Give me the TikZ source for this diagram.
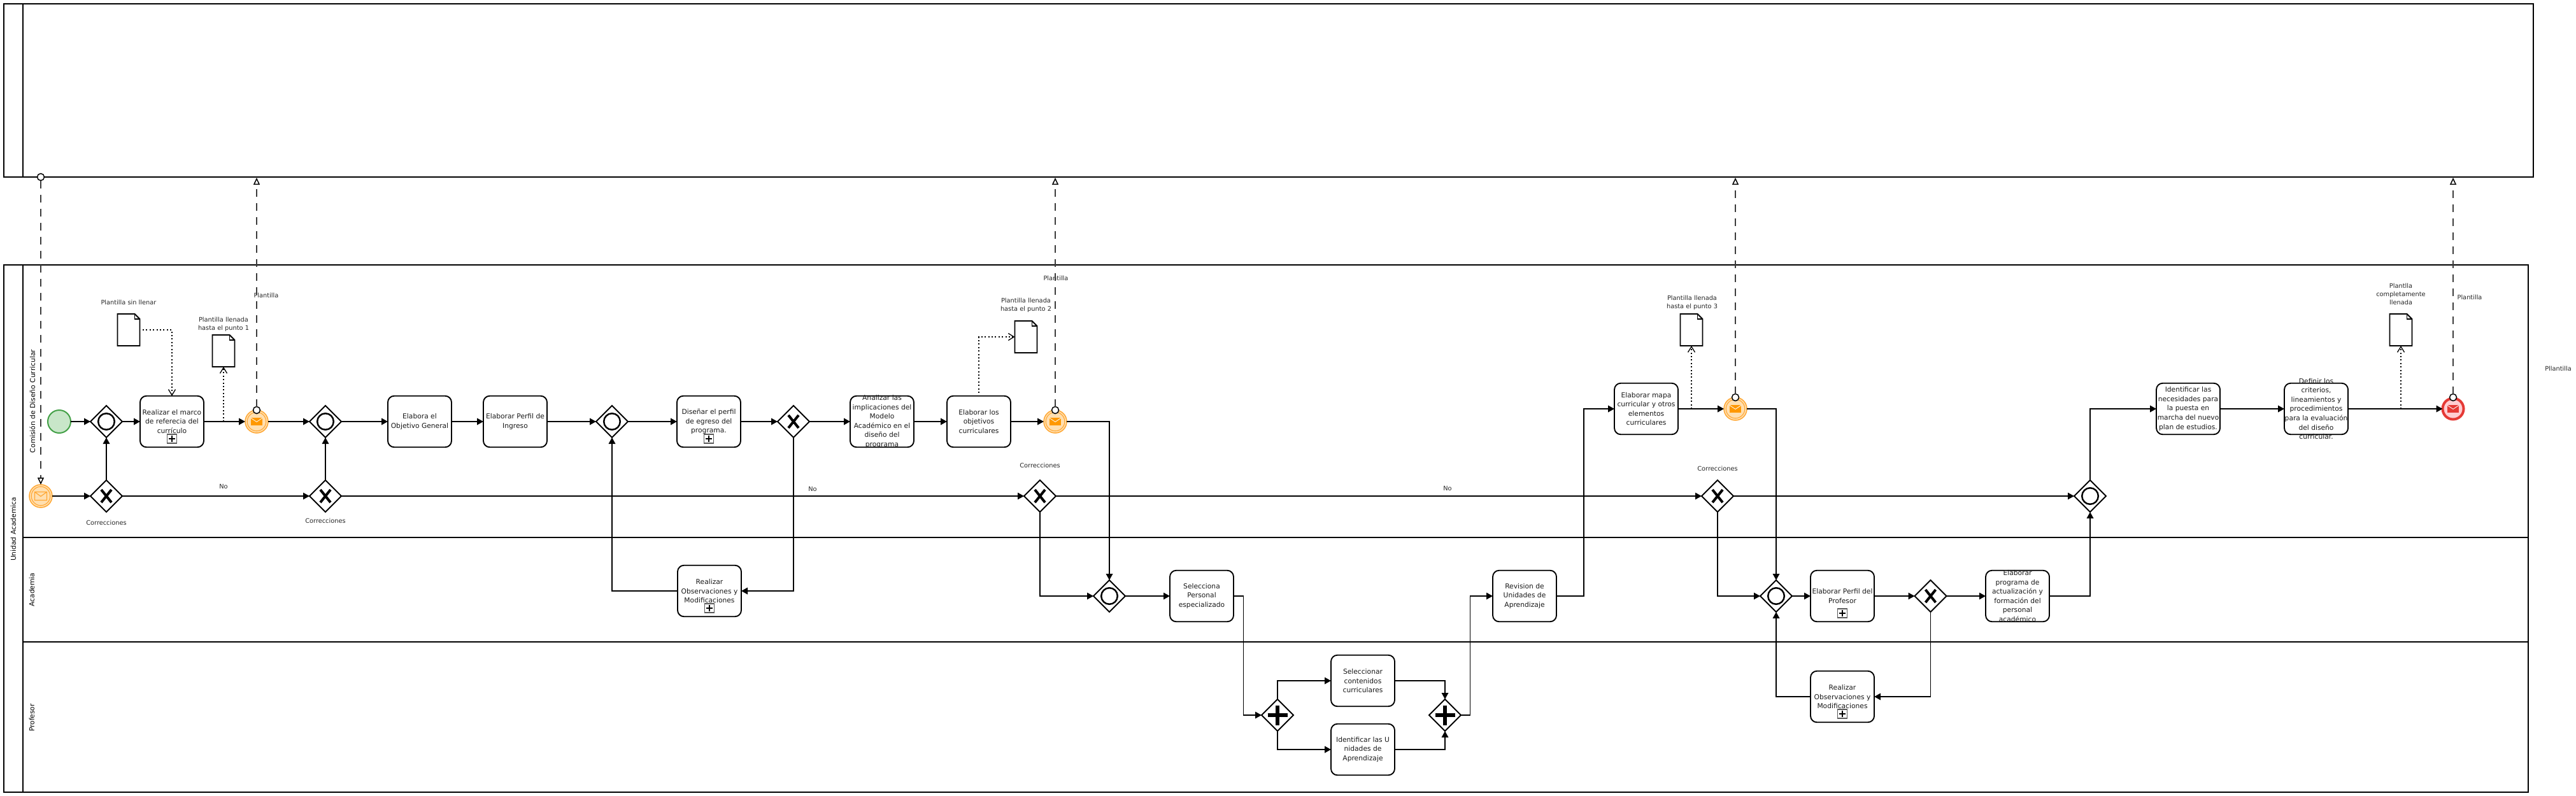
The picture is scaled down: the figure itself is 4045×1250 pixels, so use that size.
\documentclass[tikz,border=0pt]{standalone}
\usepackage{fontspec}
\setmainfont{DejaVu Sans}
\usetikzlibrary{arrows.meta,shapes.geometric}
\definecolor{evfill}{HTML}{FFDFB0}
\definecolor{evline}{HTML}{FFA733}
\definecolor{evmark}{HTML}{FF9800}
\definecolor{stfill}{HTML}{C8E6C9}
\definecolor{stline}{HTML}{43A047}
\definecolor{enfill}{HTML}{FFCDD2}
\definecolor{enline}{HTML}{E53935}
\definecolor{msgline}{HTML}{3C3C3C}
\tikzset{
  lane/.style={draw=black,line width=1.9pt,fill=none},
  lanetext/.style={rotate=90,font=\fontsize{10.7}{13}\selectfont,inner sep=0pt},
  taskbox/.style={draw=black,line width=1.9pt,rounded corners=10pt,fill=white,minimum width=100pt,minimum height=80.5pt,inner sep=0pt,outer sep=0pt},
  tasktext/.style={align=center,font=\fontsize{10.7}{14.6}\selectfont,inner sep=0pt,text=black!90},
  lab/.style={align=center,font=\fontsize{9.8}{13.2}\selectfont,inner sep=0pt,text=black!85},
  gateway/.style={diamond,draw=black,line width=1.9pt,fill=white,minimum width=50pt,minimum height=50pt,inner sep=0pt,outer sep=0pt},
  evring/.style={circle,draw=evline,line width=1.5pt,fill=evfill,minimum size=36pt,inner sep=0pt,outer sep=0pt},
  startev/.style={circle,draw=stline,line width=2pt,fill=stfill,minimum size=36pt,inner sep=0pt,outer sep=0pt},
  endev/.style={circle,draw=enline,line width=4pt,fill=enfill,minimum size=33pt,inner sep=0pt,outer sep=0pt},
  attach/.style={circle,draw=black,line width=1.5pt,fill=white,minimum size=11pt,inner sep=0pt,outer sep=0pt},
  docbox/.style={minimum width=35pt,minimum height=50pt,inner sep=0pt,outer sep=0pt},
  flow/.style={draw=black,line width=1.8pt,-{Triangle[length=10pt,width=10.5pt]}},
  msg/.style={draw=msgline,line width=1.8pt,dash pattern=on 12pt off 10pt},
  msgend/.style={msg,-{Triangle[open,length=11pt,width=10pt,fill=white,color=black,line width=1.5pt]}},
  assoc/.style={draw=black,line width=1.8pt,dash pattern=on 2pt off 3.4pt,-{Straight Barb[length=9pt,width=11pt,line width=1.3pt,color=black]}},
}
\newcommand{\taskn}[4]{\node[taskbox] (#1) at (#2,#3) {};\node[tasktext] (#1t) at (#2,#3) {#4};}
\newcommand{\marker}[1]{\begin{scope}[shift={(#1.center)}]
  \draw[line width=1.1pt,draw=black!65,fill=white] (-7.2,20) rectangle (7.2,34);
  \draw[line width=1.6pt] (-4.8,27) -- (4.8,27) (0,22.2) -- (0,31.8);
\end{scope}}
\newcommand{\gwor}[3]{\node[gateway] (#1) at (#2,#3) {};\draw[line width=2.5pt] (#1.center) circle[radius=12.8pt];}
\newcommand{\gwx}[3]{\node[gateway] (#1) at (#2,#3) {};\begin{scope}[shift={(#1.center)}]\draw[line width=4pt] (-8,-10) -- (8,10) (8,-10) -- (-8,10);\end{scope}}
\newcommand{\gwp}[3]{\node[gateway] (#1) at (#2,#3) {};\begin{scope}[shift={(#1.center)}]\draw[line width=6.5pt] (-15.5,0) -- (15.5,0) (0,-15.5) -- (0,15.5);\end{scope}}
\newcommand{\docn}[3]{\node[docbox] (#1) at (#2,#3) {};\begin{scope}[shift={(#1.center)}]
  \draw[line width=1.9pt,draw=black,fill=white,line join=miter] (-17.5,-25) -- (9.5,-25) -- (17.5,-17) -- (17.5,25) -- (-17.5,25) -- cycle;
  \draw[line width=1.4pt] (9.5,-25) -- (9.5,-17) -- (17.5,-17);
\end{scope}}
\newcommand{\evthrow}[3]{\node[evring] (#1) at (#2,#3) {};\draw[draw=evline,line width=1.1pt] (#1.center) circle[radius=14.8pt];
  \begin{scope}[shift={(#1.center)}]\fill[evmark] (-9,-6) rectangle (9,6);\draw[white,line width=.8pt] (-9,-5.5) -- (0,.5) -- (9,-5.5);\end{scope}}
\newcommand{\evcatch}[3]{\node[evring] (#1) at (#2,#3) {};\draw[draw=evline,line width=1.1pt] (#1.center) circle[radius=14.8pt];
  \begin{scope}[shift={(#1.center)}]\draw[draw=evline,line width=1.2pt] (-9.5,-6.5) rectangle (9.5,6.5) (-9.5,-6.5) -- (0,.5) -- (9.5,-6.5);\end{scope}}
\begin{document}
\begin{tikzpicture}[x=1pt,y=-1pt]
\useasboundingbox (0,0) rectangle (4045,1250);
% pools and lanes
\draw[lane] (6,6) rectangle (3978,278);
\draw[lane] (36,6) -- (36,278);
\draw[lane] (6,416) rectangle (3970,1244);
\draw[lane] (36,416) -- (36,1244);
\draw[lane] (36,844) -- (3970,844);
\draw[lane] (36,1008) -- (3970,1008);
\node[lanetext] (l1) at (21,831) {Unidad Academica};
\node[lanetext] (l2) at (51,630) {Comisión de Diseño Curricular};
\node[lanetext] (l3) at (50,926) {Academia};
\node[lanetext] (l4) at (50,1127) {Profesor};
% events
\node[startev] (st) at (93,662) {};
\evcatch{e0}{64}{779}
\evthrow{e1}{403}{662}
\evthrow{e2}{1657}{662}
\evthrow{e3}{2725}{642}
\node[endev] (e4) at (3852,642) {};
\begin{scope}[shift={(e4.center)}]\fill[enline] (-9,-6) rectangle (9,6);\draw[white,line width=.8pt] (-9,-5.5) -- (0,.5) -- (9,-5.5);\end{scope}
% gateways
\gwor{g1}{167}{662}
\gwx{x1}{167}{779}
\gwor{g2}{511}{662}
\gwx{x2}{511}{779}
\gwor{g3}{961}{662}
\gwx{x3}{1246}{662}
\gwx{x4}{1633}{779}
\gwor{g4}{1742}{936}
\gwp{p1}{2006}{1123}
\gwp{p2}{2269}{1123}
\gwx{x5}{2697}{779}
\gwor{g5}{2789}{936}
\gwx{x6}{3031.5}{936}
\gwor{g6}{3282}{779}
% tasks
\taskn{t1}{270}{662}{Realizar el marco\\de referecia del\\currículo}
\marker{t1}
\taskn{t2}{659}{662}{Elabora el\\Objetivo General}
\taskn{t3}{809}{662}{Elaborar Perfil de\\Ingreso}
\taskn{t4}{1113}{662}{Diseñar el perfil\\de egreso del\\programa.}
\marker{t4}
\taskn{t5}{1385}{662}{Analizar las\\implicaciones del\\Modelo\\Académico en el\\diseño del\\programa}
\taskn{t6}{1537}{662}{Elaborar los\\objetivos\\curriculares}
\taskn{t7}{1114}{928}{Realizar\\Observaciones y\\Modificaciones}
\marker{t7}
\taskn{t8}{1887}{936}{Selecciona\\Personal\\especializado}
\taskn{t9}{2140}{1069}{Seleccionar\\contenidos\\curriculares}
\taskn{t10}{2140}{1177}{Identificar las U\\nidades de\\Aprendizaje}
\taskn{t11}{2394}{936}{Revision de\\Unidades de\\Aprendizaje}
\taskn{t12}{2585}{642}{Elaborar mapa\\curricular y otros\\elementos\\curriculares}
\taskn{t13}{2893}{936}{Elaborar Perfil del\\Profesor}
\marker{t13}
\taskn{t14}{2893}{1094}{Realizar\\Observaciones y\\Modificaciones}
\marker{t14}
\taskn{t15}{3168}{936}{Elaborar\\programa de\\actualización y\\formación del\\personal\\académico}
\taskn{t16}{3436}{642}{Identificar las\\necesidades para\\la puesta en\\marcha del nuevo\\plan de estudios.}
\taskn{t17}{3637}{642}{Definir los\\criterios,\\lineamientos y\\procedimientos\\para la evaluación\\del diseño\\curricular.}
% documents
\docn{d1}{202}{518}
\docn{d2}{351}{551}
\docn{d3}{1611}{529}
\docn{d4}{2656}{518}
\docn{d5}{3770}{518}
% labels
\node[lab] (n1) at (202,475) {Plantilla sin llenar};
\node[lab] (n2) at (351,509) {Plantilla llenada\\hasta el punto 1};
\node[lab] (n3) at (418,464) {Plantilla};
\node[lab] (n4) at (1611,479.5) {Plantilla llenada\\hasta el punto 2};
\node[lab] (n5) at (1658,437) {Plantilla};
\node[lab] (n6) at (2657,475.5) {Plantilla llenada\\hasta el punto 3};
\node[lab] (n7) at (3770,462) {Plantlla\\completamente\\llenada};
\node[lab] (n8) at (3878,467) {Plantilla};
\node[lab] (n9) at (4017,578.5) {Pllantilla};
\node[lab] (c1) at (167,820.5) {Correcciones};
\node[lab] (c2) at (511,818) {Correcciones};
\node[lab] (c3) at (1633,731) {Correcciones};
\node[lab] (c4) at (2697,736) {Correcciones};
\node[lab] (no1) at (351,764) {No};
\node[lab] (no2) at (1276,768) {No};
\node[lab] (no3) at (2273,767) {No};
% sequence flows
\draw[flow] (st) -- (g1);
\draw[flow] (g1) -- (t1);
\draw[flow] (t1) -- (e1);
\draw[flow] (e1) -- (g2);
\draw[flow] (g2) -- (t2);
\draw[flow] (t2) -- (t3);
\draw[flow] (t3) -- (g3);
\draw[flow] (g3) -- (t4);
\draw[flow] (t4) -- (x3);
\draw[flow] (x3) -- (t5);
\draw[flow] (t5) -- (t6);
\draw[flow] (t6) -- (e2);
\draw[flow] (e0) -- (x1);
\draw[flow] (x1) -- (g1);
\draw[flow] (x1) -- (x2);
\draw[flow] (x2) -- (g2);
\draw[flow] (x2) -- (x4);
\draw[flow] (x4) -- (x5);
\draw[flow] (x5) -- (g6);
\draw[flow] (x3.south) |- (t7.east);
\draw[flow] (t7.west) -| (g3.south);
\draw[flow] (e2.east) -| (g4.north);
\draw[flow] (x4.south) |- (g4.west);
\draw[flow] (g4) -- (t8);
\draw[flow] (t8.east) -- ++(15.5,0) |- (p1.west);
\draw[flow] (p1.north) |- (t9.west);
\draw[flow] (p1.south) |- (t10.west);
\draw[flow] (t9.east) -| (p2.north);
\draw[flow] (t10.east) -| (p2.south);
\draw[flow] (p2.east) -- ++(14.5,0) |- (t11.west);
\draw[flow] (t11.east) -- ++(43,0) |- (t12.west);
\draw[flow] (t12) -- (e3);
\draw[flow] (e3.east) -| (g5.north);
\draw[flow] (x5.south) |- (g5.west);
\draw[flow] (g5) -- (t13);
\draw[flow] (t13) -- (x6);
\draw[flow] (x6) -- (t15);
\draw[flow] (x6.south) |- (t14.east);
\draw[flow] (t14.west) -| (g5.south);
\draw[flow] (t15.east) -| (g6.south);
\draw[flow] (g6.north) |- (t16.west);
\draw[flow] (t16) -- (t17);
\draw[flow] (t17) -- (e4);
% associations
\coordinate (a1) at (224,518);
\coordinate (a2) at (351,662);
\coordinate (a3) at (1537,617);
\coordinate (a4) at (2656,642);
\coordinate (a5) at (3770,642);
\draw[assoc] (a1) -| (t1.north);
\draw[assoc] (a2) -- (d2.south);
\draw[assoc] (a3) |- (d3.west);
\draw[assoc] (a4) -- (d4.south);
\draw[assoc] (a5) -- (d5.south);
% message flows
\node[attach] (m0) at (64,278) {};
\node[attach] (m1) at (403,644) {};
\node[attach] (m2) at (1657,644) {};
\node[attach] (m3) at (2725,624) {};
\node[attach] (m4) at (3852,624) {};
\coordinate (b1) at (403,279);
\coordinate (b2) at (1657,279);
\coordinate (b3) at (2725,279);
\coordinate (b4) at (3852,279);
\draw[msgend] (m0.south) -- (e0.north);
\draw[msgend] (m1.north) -- (b1);
\draw[msgend] (m2.north) -- (b2);
\draw[msgend] (m3.north) -- (b3);
\draw[msgend] (m4.north) -- (b4);
\end{tikzpicture}
\end{document}
